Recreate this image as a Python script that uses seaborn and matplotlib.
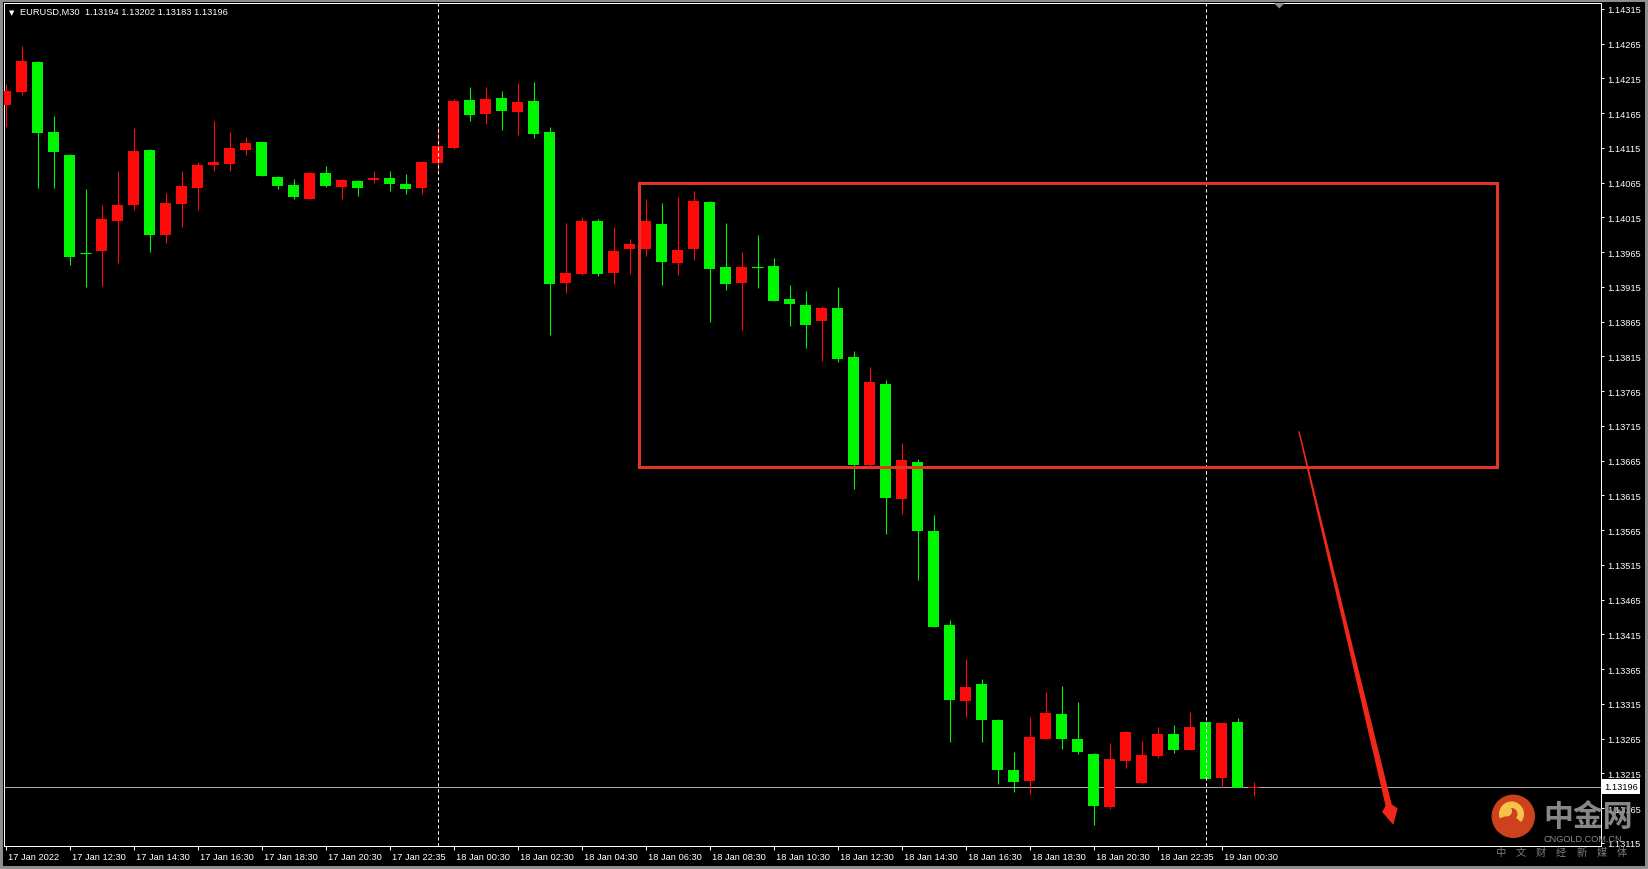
import numpy as np
import pandas as pd
import matplotlib
matplotlib.use("Agg")
import matplotlib.pyplot as plt
import matplotlib.transforms as mtransforms
from matplotlib.patches import Rectangle, Polygon, Circle, Wedge
import seaborn as sns

# ---------------- data ----------------
symbol_title = "EURUSD,M30"
last_ohlc_text = "1.13194 1.13202 1.13183 1.13196"

opens = [1.14177, 1.14195, 1.14239, 1.14137, 1.14105, 1.13964, 1.13967, 1.14010, 1.14032, 1.14112,
         1.13989, 1.14034, 1.14057, 1.14090, 1.14092, 1.14112, 1.14123, 1.14073, 1.14062, 1.14042,
         1.14079, 1.14059, 1.14067, 1.14068, 1.14071, 1.14063, 1.14057, 1.14093, 1.14114, 1.14184,
         1.14164, 1.14187, 1.14166, 1.14183, 1.14138, 1.13921, 1.13933, 1.14010, 1.13935, 1.13969,
         1.13969, 1.14005, 1.13949, 1.13969, 1.14037, 1.13943, 1.13920, 1.13943, 1.13945, 1.13897,
         1.13889, 1.13866, 1.13884, 1.13814, 1.13658, 1.13775, 1.13610, 1.13663, 1.13563, 1.13428,
         1.13319, 1.13344, 1.13292, 1.13220, 1.13204, 1.13265, 1.13300, 1.13265, 1.13243, 1.13166,
         1.13232, 1.13201, 1.13240, 1.13272, 1.13249, 1.13289, 1.13208, 1.13289, 1.13194]
highs = [1.14207, 1.14261, 1.14240, 1.14161, 1.14106, 1.14056, 1.14033, 1.14082, 1.14143, 1.14113,
         1.14050, 1.14081, 1.14094, 1.14154, 1.14137, 1.14131, 1.14124, 1.14074, 1.14070, 1.14080,
         1.14089, 1.14070, 1.14068, 1.14081, 1.14081, 1.14077, 1.14096, 1.14147, 1.14185, 1.14202,
         1.14202, 1.14196, 1.14208, 1.14210, 1.14145, 1.14007, 1.14016, 1.14013, 1.14001, 1.13984,
         1.14041, 1.14036, 1.14044, 1.14053, 1.14039, 1.14007, 1.13965, 1.13990, 1.13957, 1.13918,
         1.13909, 1.13888, 1.13914, 1.13822, 1.13799, 1.13781, 1.13690, 1.13667, 1.13586, 1.13436,
         1.13379, 1.13351, 1.13293, 1.13245, 1.13296, 1.13332, 1.13341, 1.13318, 1.13244, 1.13259,
         1.13276, 1.13262, 1.13281, 1.13285, 1.13303, 1.13290, 1.13288, 1.13294, 1.13202]
lows = [1.14145, 1.14191, 1.14057, 1.14057, 1.13947, 1.13914, 1.13916, 1.13949, 1.14025, 1.13965,
        1.13978, 1.14001, 1.14025, 1.14081, 1.14081, 1.14105, 1.14074, 1.14055, 1.14042, 1.14041,
        1.14059, 1.14041, 1.14046, 1.14064, 1.14053, 1.14049, 1.14049, 1.14080, 1.14113, 1.14153,
        1.14149, 1.14141, 1.14133, 1.14129, 1.13845, 1.13906, 1.13932, 1.13931, 1.13919, 1.13933,
        1.13960, 1.13918, 1.13932, 1.13953, 1.13864, 1.13911, 1.13853, 1.13913, 1.13894, 1.13858,
        1.13827, 1.13808, 1.13807, 1.13624, 1.13657, 1.13559, 1.13588, 1.13493, 1.13425, 1.13260,
        1.13296, 1.13260, 1.13199, 1.13188, 1.13185, 1.13264, 1.13250, 1.13243, 1.13141, 1.13164,
        1.13222, 1.13200, 1.13237, 1.13244, 1.13248, 1.13206, 1.13195, 1.13195, 1.13183]
closes = [1.14197, 1.14240, 1.14136, 1.14109, 1.13958, 1.13963, 1.14013, 1.14033, 1.14110, 1.13989,
          1.14035, 1.14060, 1.14090, 1.14095, 1.14115, 1.14122, 1.14075, 1.14060, 1.14044, 1.14079,
          1.14060, 1.14069, 1.14057, 1.14072, 1.14063, 1.14056, 1.14095, 1.14118, 1.14183, 1.14162,
          1.14185, 1.14168, 1.14181, 1.14135, 1.13919, 1.13935, 1.14010, 1.13933, 1.13967, 1.13977,
          1.14009, 1.13951, 1.13968, 1.14038, 1.13941, 1.13919, 1.13943, 1.13942, 1.13895, 1.13890,
          1.13860, 1.13885, 1.13811, 1.13658, 1.13778, 1.13611, 1.13666, 1.13564, 1.13426, 1.13320,
          1.13339, 1.13292, 1.13220, 1.13203, 1.13267, 1.13302, 1.13265, 1.13245, 1.13168, 1.13235,
          1.13275, 1.13241, 1.13272, 1.13248, 1.13281, 1.13207, 1.13287, 1.13194, 1.13196]

time_tick_index = [0, 4, 8, 12, 16, 20, 24, 28, 32, 36, 40, 44, 48, 52, 56, 60, 64, 68, 72, 76]
time_tick_labels = ["17 Jan 2022", "17 Jan 12:30", "17 Jan 14:30", "17 Jan 16:30", "17 Jan 18:30",
                    "17 Jan 20:30", "17 Jan 22:35", "18 Jan 00:30", "18 Jan 02:30", "18 Jan 04:30",
                    "18 Jan 06:30", "18 Jan 08:30", "18 Jan 10:30", "18 Jan 12:30", "18 Jan 14:30",
                    "18 Jan 16:30", "18 Jan 18:30", "18 Jan 20:30", "18 Jan 22:35", "19 Jan 00:30"]

price_ticks = [1.13115, 1.13165, 1.13215, 1.13265, 1.13315, 1.13365, 1.13415, 1.13465, 1.13515,
               1.13565, 1.13615, 1.13665, 1.13715, 1.13765, 1.13815, 1.13865, 1.13915, 1.13965,
               1.14015, 1.14065, 1.14115, 1.14165, 1.14215, 1.14265, 1.14315]
current_price = 1.13196
day_separators = [27, 75]

# annotations drawn on the chart (in bar-index / price units)
zone_x = (39.58, 93.24)
zone_y = (1.13656, 1.14064)
arrow_from = (80.84, 1.13707)
arrow_to = (86.74, 1.13141)

# ---------------- style ----------------
sns.set_theme(style="dark", rc={"axes.facecolor": "black", "figure.facecolor": "black",
                                "savefig.facecolor": "black", "axes.grid": False})
plt.rcParams['font.family'] = ['Liberation Sans', 'DejaVu Sans', 'Noto Sans CJK SC']

W, H = 1648, 870
PX = 0.72  # one pixel in points at 100 dpi
fig = plt.figure(figsize=(W / 100, H / 100), dpi=100)
ax = fig.add_axes([3.5 / W, (H - 847) / H, (1600.5 - 3.5) / W, (847 - 4) / H])
ax.set_facecolor('black')

df = pd.DataFrame({"open": opens, "high": highs, "low": lows, "close": closes})
df["idx"] = np.arange(len(df))
UP_COLOR, DOWN_COLOR = '#ff0a0a', '#00f500'
colors = np.where(df["close"] >= df["open"], UP_COLOR, DOWN_COLOR)

# price line (behind candles)
ax.axhline(current_price, color='#a8a8a8', lw=PX, zorder=1)

# wicks
ax.vlines(df["idx"], df["low"], df["high"], colors=colors, linewidth=PX * 1.1, zorder=2)
# bodies
body_bottom = np.minimum(df["open"], df["close"])
body_h = np.abs(df["close"] - df["open"])
ax.bar(df["idx"], body_h, bottom=body_bottom, width=0.69, color=colors, linewidth=0, zorder=3)
doji = (body_h < 1.5e-5).to_numpy()
ax.hlines(df["open"][doji], df["idx"][doji] - 0.345, df["idx"][doji] + 0.345,
          colors=colors[doji], linewidth=PX * 1.2, zorder=3)

# day separators
for s in day_separators:
    ax.axvline(s, color='white', lw=PX, ls=(0, (3.3, 2.7)), zorder=4)

ax.set_xlim(-0.125, 99.6875)
ax.set_ylim(1.131104, 1.143233)

# zone rectangle
ax.add_patch(Rectangle((zone_x[0], zone_y[0]), zone_x[1] - zone_x[0], zone_y[1] - zone_y[0],
                       fill=False, edgecolor='#e3342a', lw=3 * PX, zorder=5))

# tapered arrow (built in display pixels from the data anchors)
p0 = ax.transData.transform(arrow_from)
p1 = ax.transData.transform(arrow_to)
d = p1 - p0
L = np.hypot(*d)
u = d / L
n = np.array([-u[1], u[0]])
head_len, head_w, w0, w1 = 20.0, 8.0, 0.7, 3.2
b = p1 - u * head_len
bn = p1 - u * (head_len * 0.75)
poly = [p0 + n * w0, b + n * w1, bn + n * head_w, p1, bn - n * head_w, b - n * w1, p0 - n * w0]
ax.add_patch(Polygon(poly, closed=True, transform=mtransforms.IdentityTransform(),
                     facecolor='#f0281a', edgecolor='none', zorder=6, clip_on=False))

# axes / ticks
ax.yaxis.tick_right()
ax.set_yticks(price_ticks)
ax.set_yticklabels([f"{v:.5f}" for v in price_ticks])
ax.set_xticks(time_tick_index)
ax.set_xticklabels(time_tick_labels)
ax.tick_params(axis='y', which='both', direction='out', length=2.2, width=PX, color='white',
               labelcolor='white', pad=2.5, labelsize=6.7, left=False, right=True,
               labelleft=False, labelright=True)
ax.tick_params(axis='x', direction='out', length=3, width=PX, color='white',
               labelcolor='white', pad=1.5, labelsize=6.7, bottom=True)
offset = mtransforms.ScaledTranslation(2 / 100, 0, fig.dpi_scale_trans)
for lbl in ax.get_xticklabels():
    lbl.set_ha('left')
    lbl.set_transform(lbl.get_transform() + offset)
for sp in ax.spines.values():
    sp.set_visible(True)
    sp.set_color('white')
    sp.set_linewidth(PX)

# current price box on the price scale
trans = mtransforms.blended_transform_factory(ax.transAxes, ax.transData)
ax.text(1.00225, current_price, f"{current_price:.5f}", transform=trans, ha='left', va='center',
        fontsize=6.7, color='black', clip_on=False, zorder=10,
        bbox=dict(boxstyle='square,pad=0.28', fc='white', ec='white', lw=0))

# ---------------- figure decorations (pixel coordinates) ----------------
pix = mtransforms.Affine2D().scale(1 / W, -1 / H).translate(0, 1) + fig.transFigure

fig.text(11.7, 12.8, "\u25BC", transform=pix, color='white', fontsize=5, ha='center', va='center',
         family=['DejaVu Sans'])
fig.text(20.5, 12.7, f"{symbol_title}  {last_ohlc_text}", transform=pix, color='white',
         fontsize=6.7, ha='left', va='center')

# chart-shift marker
fig.patches.append(Polygon([(1274.0, 4.2), (1284.6, 4.2), (1279.3, 9.5)], closed=True,
                           transform=pix, facecolor='#8a8a8a', edgecolor='none', zorder=2))
# outer window frame
fig.patches.append(Rectangle((0, 0), 1, 1, transform=fig.transFigure, fill=False,
                             edgecolor='#8e8e8e', lw=4.3, zorder=2))

# watermark
fig.patches.append(Circle((1513.3, 817.3), 21.7, transform=pix, facecolor='#d9461e',
                          edgecolor='none', alpha=0.95, zorder=3))
fig.patches.append(Wedge((1511.5, 815.0), 12.5, 160, 40, width=6.5, transform=pix,
                         facecolor='#f5c24a', edgecolor='none', zorder=4))
fig.patches.append(Circle((1506.5, 812.0), 5.5, transform=pix, facecolor='#f5c24a',
                          edgecolor='none', zorder=4))
fig.text(1588.5, 817.0, "中金网", transform=pix, color='#8f8f8f', fontsize=21.5,
         fontweight='bold', ha='center', va='center', alpha=0.95,
         family=['Noto Sans CJK SC', 'DejaVu Sans'], zorder=5)
fig.text(1583.0, 839.5, "CNGOLD.COM.CN", transform=pix, color='#8a8a8a', fontsize=6.6,
         ha='center', va='center', zorder=5)
for k, ch in enumerate("中文财经新媒体"):
    fig.text(1500.0 + 20.3 * k, 853.3, ch, transform=pix, color='#7c7c7c', fontsize=7.4,
             ha='center', va='center', family=['Noto Sans CJK SC', 'DejaVu Sans'], zorder=5)

fig.savefig("out.png", dpi=100, facecolor='black')
